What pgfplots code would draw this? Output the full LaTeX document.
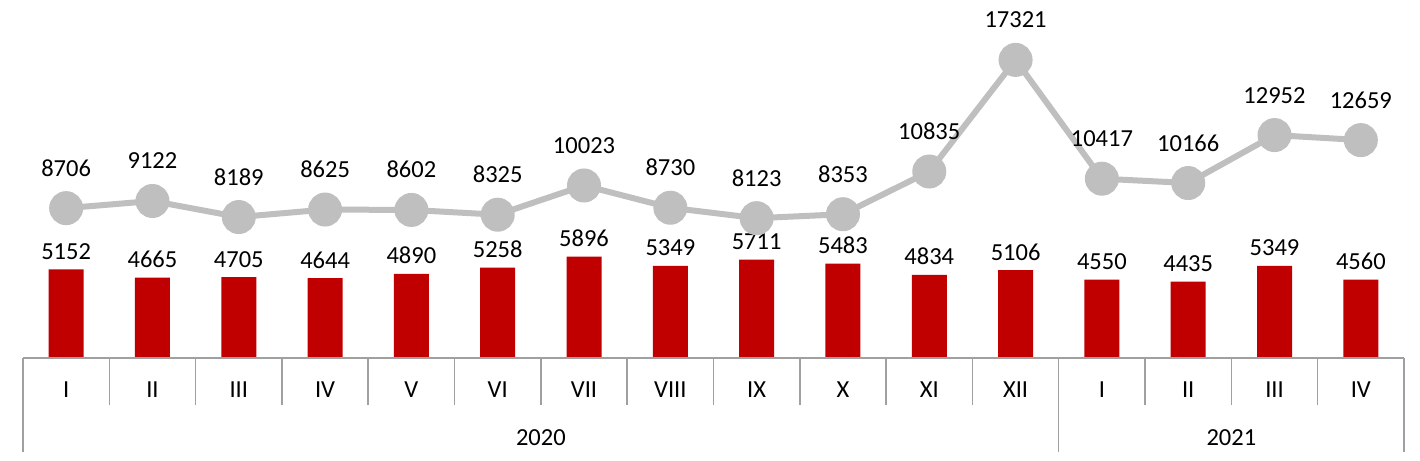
\documentclass[border=0pt]{standalone}
\usepackage{fontspec}
\setmainfont{Carlito}
\usepackage{pgfplots}
\pgfplotsset{compat=1.18}

\definecolor{barred}{HTML}{C00000}
\definecolor{linegray}{HTML}{BFBFBF}
\definecolor{sepgray}{HTML}{A0A0A0}

\newcommand{\lblfont}{\fontsize{24.5bp}{29bp}\selectfont}

\begin{document}
\begin{tikzpicture}
\path[use as bounding box] (-23bp,-103bp) rectangle (1397bp,358bp);
\begin{axis}[
    scale only axis,
    width=1381bp, height=358bp,
    xmin=-0.5, xmax=15.5,
    ymin=0, ymax=20800,
    axis line style={draw=none},
    ytick=\empty,
    xtick={0,...,15},
    xticklabels={I,II,III,IV,V,VI,VII,VIII,IX,X,XI,XII,I,II,III,IV},
    major tick length=0pt,
    xticklabel style={anchor=base, inner sep=0pt, yshift=-39bp, font=\lblfont},
    clip=false,
    /pgf/number format/.cd, 1000 sep={}, assume math mode=true,
]
% bars
\addplot[ybar, bar width=35bp, fill=barred, draw=none,
    nodes near coords,
    every node near coord/.append style={font=\lblfont, inner sep=0pt, anchor=base, yshift=10bp, text=black}]
    coordinates {
    (0,5152) (1,4665) (2,4705) (3,4644) (4,4890) (5,5258) (6,5896) (7,5349)
    (8,5711) (9,5483) (10,4834) (11,5106) (12,4550) (13,4435) (14,5349) (15,4560)
};
% line
\addplot[color=linegray, line width=6bp, mark=*, mark size=14bp,
    mark options={draw=none, fill=linegray},
    nodes near coords,
    every node near coord/.append style={font=\lblfont, inner sep=0pt, anchor=base, yshift=32bp, text=black}]
    coordinates {
    (0,8706) (1,9122) (2,8189) (3,8625) (4,8602) (5,8325) (6,10023) (7,8730)
    (8,8123) (9,8353) (10,10835) (11,17321) (12,10417) (13,10166) (14,12952) (15,12659)
};
% category table below the axis
\draw[sepgray, line width=1.5bp] (axis cs:-0.5,0) -- (axis cs:15.5,0);
\pgfplotsinvokeforeach{0.5,1.5,2.5,3.5,4.5,5.5,6.5,7.5,8.5,9.5,10.5,12.5,13.5,14.5}{
    \draw[sepgray, line width=1.5bp] (axis cs:#1,0) -- ([yshift=-47bp]axis cs:#1,0);
}
\pgfplotsinvokeforeach{-0.5,11.5,15.5}{
    \draw[sepgray, line width=1.5bp] (axis cs:#1,0) -- ([yshift=-94bp]axis cs:#1,0);
}
\node[font=\lblfont, anchor=base, inner sep=0pt] at ([yshift=-87bp]axis cs:5.5,0) {2020};
\node[font=\lblfont, anchor=base, inner sep=0pt] at ([yshift=-87bp]axis cs:13.5,0) {2021};
\end{axis}
\end{tikzpicture}
\end{document}
